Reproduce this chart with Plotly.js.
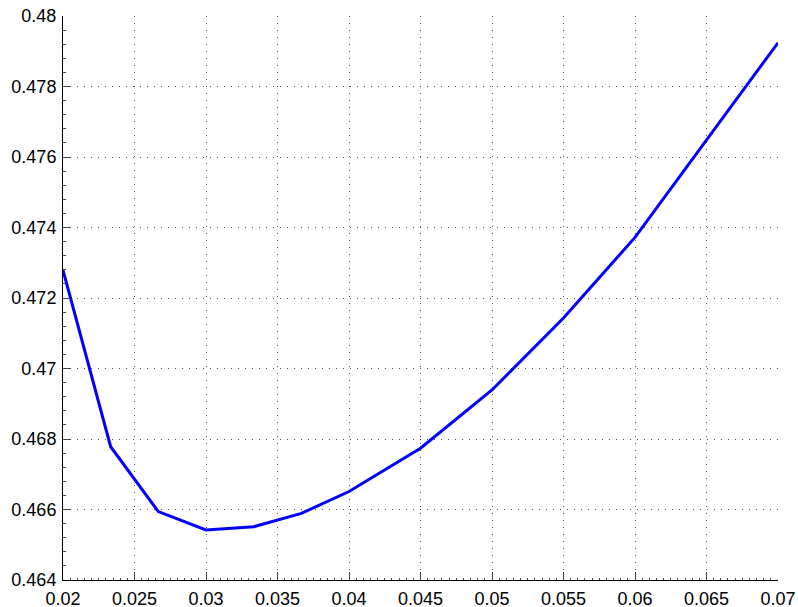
<!DOCTYPE html>
<html>
<head>
<script src="https://cdn.plot.ly/plotly-3.0.1.min.js"></script>
<style>body{margin:0;padding:0;background:#fff}#plot{width:798px;height:607px}</style>
</head>
<body>
<div id="plot"></div>
<script>
const xValues = [0.02, 0.023333, 0.026667, 0.03, 0.033333, 0.036667, 0.04, 0.045, 0.05, 0.055, 0.06, 0.07];
const yValues = [0.47279, 0.46778, 0.46594, 0.46542, 0.46551, 0.46589, 0.46651, 0.46774, 0.46939, 0.47143, 0.47372, 0.47924];
const xTicks = [0.02, 0.025, 0.03, 0.035, 0.04, 0.045, 0.05, 0.055, 0.06, 0.065, 0.07];
const xTickLabels = ['0.02', '0.025', '0.03', '0.035', '0.04', '0.045', '0.05', '0.055', '0.06', '0.065', '0.07'];
const yTicks = [0.464, 0.466, 0.468, 0.47, 0.472, 0.474, 0.476, 0.478, 0.48];
const yTickLabels = ['0.464', '0.466', '0.468', '0.47', '0.472', '0.474', '0.476', '0.478', '0.48'];

const trace = {
  x: xValues, y: yValues, type: 'scatter', mode: 'lines',
  line: {color: '#0000ff', width: 3}, hoverinfo: 'none'
};
const axisCommon = {
  showline: true, linecolor: '#000', linewidth: 1,
  ticks: 'inside', ticklen: 8, tickcolor: '#444', tickwidth: 1,
  showgrid: true, gridcolor: '#555', griddash: '1px,6px', gridwidth: 1,
  zeroline: false, mirror: false,
  tickfont: {family: 'Liberation Sans, Arial, sans-serif', size: 18, color: '#000'}
};
const layout = {
  width: 798, height: 607,
  margin: {l: 63, r: 20, t: 16, b: 27},
  paper_bgcolor: '#fff', plot_bgcolor: '#fff',
  showlegend: false,
  xaxis: Object.assign({}, axisCommon, {
    range: [0.02, 0.07], tickvals: xTicks, ticktext: xTickLabels,
    ticklabelstandoff: 2,
    minor: {dtick: 0.0005, ticks: 'inside', ticklen: 2, tickcolor: '#444', showgrid: false}
  }),
  yaxis: Object.assign({}, axisCommon, {
    range: [0.464, 0.48], tickvals: yTicks, ticktext: yTickLabels,
    ticklabelstandoff: 2,
    minor: {dtick: 0.0004, ticks: 'inside', ticklen: 3, tickcolor: '#444', showgrid: false}
  })
};
Plotly.newPlot('plot', [trace], layout, {staticPlot: true, displayModeBar: false});
</script>
</body>
</html>
